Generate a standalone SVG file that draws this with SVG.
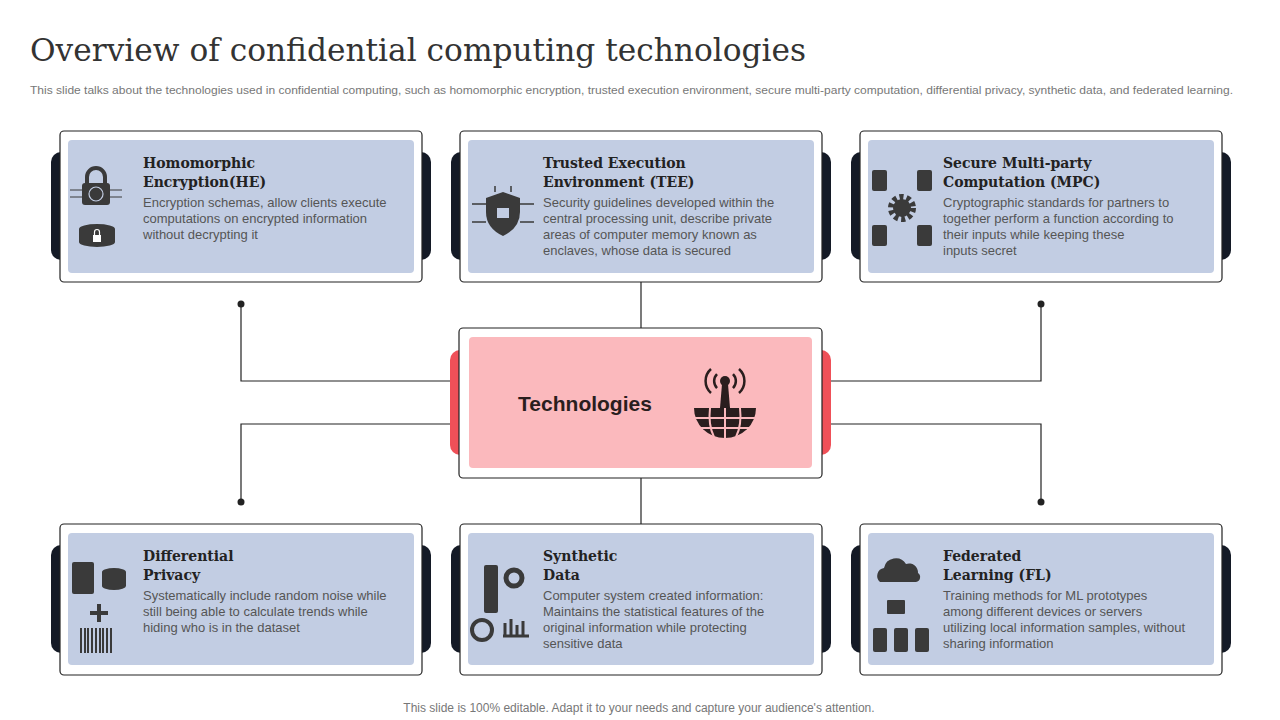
<svg xmlns="http://www.w3.org/2000/svg" width="1280" height="720" viewBox="0 0 1280 720">
<style>
.tab{fill:#141a26}
.rtab{fill:#ef5058}
.outer{fill:#fff;stroke:#222;stroke-width:1.2}
.inner{fill:#c2cde3}
.ttl{font-family:"DejaVu Serif","Liberation Serif",serif;font-weight:bold;font-size:14px;fill:#222}
.body{font-family:"Liberation Sans",Arial,sans-serif;font-size:13px;fill:#555}
.ic{fill:#3a3a3a}
.ln{stroke:#222;stroke-width:1.2;fill:none}
</style>
<rect width="1280" height="720" fill="#fff"/>
<text x="30" y="61" font-family="DejaVu Serif,Liberation Serif,serif" font-size="31" fill="#333" textLength="776" lengthAdjust="spacingAndGlyphs">Overview of confidential computing technologies</text>
<text x="30" y="94" font-family="Liberation Sans,Arial,sans-serif" font-size="11.5" fill="#777" textLength="1203" lengthAdjust="spacingAndGlyphs">This slide talks about the technologies used in confidential computing, such as homomorphic encryption, trusted execution environment, secure multi-party computation, differential privacy, synthetic data, and federated learning.</text>
<text x="639" y="712" text-anchor="middle" font-family="Liberation Sans,Arial,sans-serif" font-size="12" fill="#777">This slide is 100% editable. Adapt it to your needs and capture your audience's attention.</text>

<g id="connectors">
<line class="ln" x1="641" y1="282" x2="641" y2="328"/>
<line class="ln" x1="641" y1="478" x2="641" y2="524"/>
<polyline class="ln" points="241,304 241,381 450,381"/>
<polyline class="ln" points="450,424 241,424 241,502"/>
<polyline class="ln" points="1041,304 1041,381 831,381"/>
<polyline class="ln" points="831,424 1041,424 1041,502"/>
<circle cx="241" cy="304" r="3.5" fill="#222"/>
<circle cx="241" cy="502" r="3.5" fill="#222"/>
<circle cx="1041" cy="304" r="3.5" fill="#222"/>
<circle cx="1041" cy="502" r="3.5" fill="#222"/>
</g>

<g id="center">
<rect class="rtab" x="450" y="350" width="381" height="105" rx="10"/>
<rect class="outer" x="459" y="328" width="363" height="150" rx="4"/>
<rect x="469" y="337" width="343" height="131" rx="4" fill="#fbb9bd"/>
<text x="585" y="411" text-anchor="middle" font-family="Liberation Sans,Arial,sans-serif" font-weight="bold" font-size="21" fill="#2a1e1e">Technologies</text>
<g fill="#2a1e1e">
<circle cx="725" cy="381" r="5"/>
<path d="M722,384 L728,384 L730,408 L720,408Z"/>
<path d="M694,408 L756,408 A31,30 0 0 1 694,408Z"/>
</g>
<g stroke="#fbb9bd" stroke-width="2" fill="none">
<line x1="725" y1="408" x2="725" y2="440"/>
<line x1="694" y1="418" x2="756" y2="418"/>
<line x1="698" y1="428" x2="752" y2="428"/>
<path d="M710,408 Q708,425 714,437"/><path d="M740,408 Q742,425 736,437"/>
</g>
<g stroke="#2a1e1e" stroke-width="2.5" fill="none">
<path d="M717,374 A10,10 0 0 0 717,388"/><path d="M733,374 A10,10 0 0 1 733,388"/>
<path d="M711,369 A16,16 0 0 0 711,393"/><path d="M739,369 A16,16 0 0 1 739,393"/>
</g>
</g>

<g id="he">
<rect class="tab" x="51" y="152" width="380" height="108" rx="10"/>
<rect class="outer" x="60" y="131" width="362" height="151" rx="4"/>
<rect class="inner" x="68" y="140" width="346" height="133" rx="4"/>
<path d="M87,185 v-8 a9,9 0 0 1 18,0 v8" stroke="#3a3a3a" stroke-width="4" fill="none"/>
<rect class="ic" x="82" y="183" width="28" height="22" rx="3"/>
<circle cx="96" cy="194" r="7" fill="none" stroke="#c2cde3" stroke-width="1.2"/>
<path d="M70,190h12M70,197h12M110,190h12M110,197h12" stroke="#3a3a3a" stroke-width="1"/>
<path class="ic" d="M79,229 a18,5 0 0 1 36,0 v13 a18,5 0 0 1 -36,0z"/>
<rect x="93" y="235" width="8" height="7" fill="#fff"/>
<path d="M94.5,235v-3a2.5,2.5 0 0 1 5,0v3" stroke="#fff" stroke-width="1.2" fill="none"/>
<text class="ttl" x="143" y="168">Homomorphic</text>
<text class="ttl" x="143" y="187">Encryption(HE)</text>
<text class="body"><tspan x="143" y="207">Encryption schemas, allow clients execute</tspan><tspan x="143" y="223">computations on encrypted information</tspan><tspan x="143" y="239">without decrypting it</tspan></text>
</g>

<g id="tee">
<rect class="tab" x="451" y="152" width="380" height="108" rx="10"/>
<rect class="outer" x="460" y="131" width="362" height="151" rx="4"/>
<rect class="inner" x="468" y="140" width="346" height="133" rx="4"/>
<path class="ic" d="M503,192 L520,198 V212 Q520,228 503,236 Q486,228 486,212 V198Z"/>
<path d="M472,204h14M472,222h14M520,204h14M520,222h14M495,186v6M511,186v6" stroke="#3a3a3a" stroke-width="1.5"/>
<rect x="497" y="208" width="12" height="10" fill="#c2cde3"/>
<text class="ttl" x="543" y="168">Trusted Execution</text>
<text class="ttl" x="543" y="187">Environment (TEE)</text>
<text class="body"><tspan x="543" y="207">Security guidelines developed  within the</tspan><tspan x="543" y="223">central processing unit, describe private</tspan><tspan x="543" y="239">areas of computer memory known as</tspan><tspan x="543" y="255">enclaves,  whose data is secured</tspan></text>
</g>

<g id="mpc">
<rect class="tab" x="851" y="152" width="380" height="108" rx="10"/>
<rect class="outer" x="860" y="131" width="362" height="151" rx="4"/>
<rect class="inner" x="868" y="140" width="346" height="133" rx="4"/>
<rect class="ic" x="872" y="170" width="15" height="21" rx="2"/>
<rect class="ic" x="917" y="170" width="15" height="21" rx="2"/>
<rect class="ic" x="872" y="225" width="15" height="21" rx="2"/>
<rect class="ic" x="917" y="225" width="15" height="21" rx="2"/>
<circle cx="902" cy="208" r="11" fill="none" stroke="#3a3a3a" stroke-width="6" stroke-dasharray="4 3"/>
<circle class="ic" cx="902" cy="208" r="9"/>
<text class="ttl" x="943" y="168">Secure Multi-party</text>
<text class="ttl" x="943" y="187">Computation (MPC)</text>
<text class="body"><tspan x="943" y="207">Cryptographic  standards for partners to</tspan><tspan x="943" y="223">together perform  a function according to</tspan><tspan x="943" y="239">their inputs while keeping these</tspan><tspan x="943" y="255">inputs secret</tspan></text>
</g>

<g id="dp">
<rect class="tab" x="51" y="545" width="380" height="108" rx="10"/>
<rect class="outer" x="60" y="524" width="362" height="151" rx="4"/>
<rect class="inner" x="68" y="533" width="346" height="132" rx="4"/>
<rect class="ic" x="72" y="562" width="22" height="32" rx="2"/>
<path class="ic" d="M102,572 a12,4 0 0 1 24,0 v14 a12,4 0 0 1 -24,0z"/>
<path d="M97,604h4v7h7v4h-7v7h-4v-7h-7v-4h7z" class="ic"/>
<path d="M81,628v25M85,628v25M88,628v25M92,628v25M96,628v25M100,628v25M103,628v25M107,628v25M111,628v25" stroke="#3a3a3a" stroke-width="2"/>
<text class="ttl" x="143" y="561">Differential</text>
<text class="ttl" x="143" y="580">Privacy</text>
<text class="body"><tspan x="143" y="600">Systematically include random noise while</tspan><tspan x="143" y="616">still being able to calculate trends while</tspan><tspan x="143" y="632">hiding who is in the dataset</tspan></text>
</g>

<g id="sd">
<rect class="tab" x="451" y="545" width="380" height="108" rx="10"/>
<rect class="outer" x="460" y="524" width="362" height="151" rx="4"/>
<rect class="inner" x="468" y="533" width="346" height="132" rx="4"/>
<rect class="ic" x="484" y="565" width="14" height="48" rx="2"/>
<circle cx="514" cy="578" r="8" fill="none" stroke="#3a3a3a" stroke-width="5"/>
<circle cx="482" cy="630" r="10" fill="none" stroke="#3a3a3a" stroke-width="4"/>
<path d="M505,635v-12M511,635v-16M517,635v-10M523,635v-14M503,636h26" stroke="#3a3a3a" stroke-width="3"/>
<text class="ttl" x="543" y="561">Synthetic</text>
<text class="ttl" x="543" y="580">Data</text>
<text class="body"><tspan x="543" y="600">Computer system created information:</tspan><tspan x="543" y="616">Maintains the statistical features of the</tspan><tspan x="543" y="632">original information  while protecting</tspan><tspan x="543" y="648">sensitive data</tspan></text>
</g>

<g id="fl">
<rect class="tab" x="851" y="545" width="380" height="108" rx="10"/>
<rect class="outer" x="860" y="524" width="362" height="151" rx="4"/>
<rect class="inner" x="868" y="533" width="346" height="132" rx="4"/>
<path class="ic" d="M880,582 a8,8 0 0 1 4,-14 a12,12 0 0 1 22,-4 a9,9 0 0 1 12,9 a5,5 0 0 1 -2,9z"/>
<rect class="ic" x="887" y="600" width="18" height="14" rx="1"/>
<rect class="ic" x="873" y="628" width="14" height="24" rx="2"/>
<rect class="ic" x="894" y="628" width="14" height="24" rx="2"/>
<rect class="ic" x="915" y="628" width="14" height="24" rx="2"/>
<text class="ttl" x="943" y="561">Federated</text>
<text class="ttl" x="943" y="580">Learning (FL)</text>
<text class="body"><tspan x="943" y="600">Training  methods for ML prototypes</tspan><tspan x="943" y="616">among different  devices or servers</tspan><tspan x="943" y="632">utilizing local information samples, without</tspan><tspan x="943" y="648">sharing information</tspan></text>
</g>
</svg>
